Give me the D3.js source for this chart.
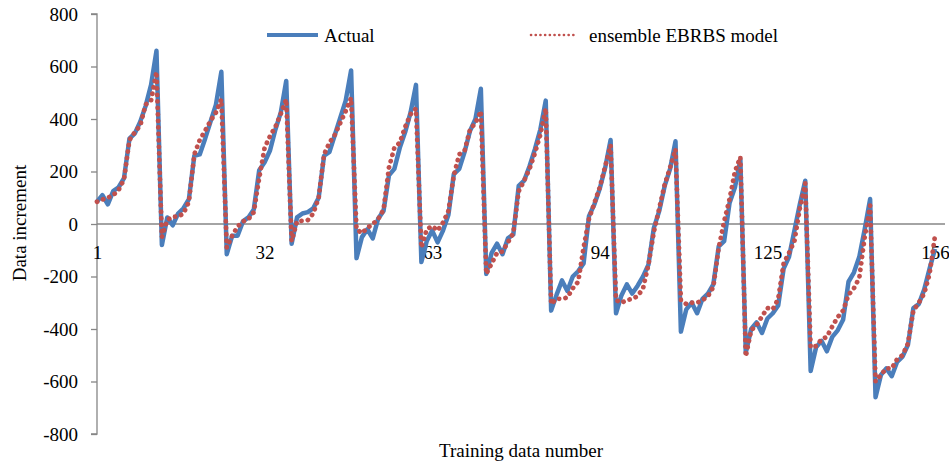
<!DOCTYPE html>
<html>
<head>
<meta charset="utf-8">
<script src="https://cdn.jsdelivr.net/npm/d3@7"></script>
<style>
  body { margin: 0; background: #fff; }
  text { font-family: "Liberation Serif", "Times New Roman", serif; fill: #000; }
</style>
</head>
<body>
<div id="chart"></div>
<script>
// Actual monthly increments (training data 1..156)
var actual = [
  85, 110, 75, 125, 140, 175, 325, 345, 390, 450, 530, 660,
  -80, 25, -5, 40, 60, 95, 260, 265, 325, 390, 455, 580,
  -115, -45, -45, 10, 25, 55, 205, 235, 280, 360, 425, 545,
  -75, 25, 40, 45, 60, 100, 260, 275, 340, 405, 470, 585,
  -130, -50, -20, -55, 20, 50, 185, 210, 290, 350, 425, 530,
  -145, -65, -25, -70, -25, 35, 190, 210, 275, 355, 400, 515,
  -190, -110, -75, -115, -55, -40, 145, 165, 220, 285, 360, 470,
  -330, -270, -215, -255, -200, -180, -150, 30, 75, 135, 215, 320,
  -340, -272, -230, -265, -235, -200, -155, -15, 50, 145, 210, 315,
  -410, -325, -300, -340, -285, -265, -230, -85, -65, 80, 140, 245,
  -490, -400, -375, -415, -360, -340, -310, -170, -125, -25, 75, 165,
  -560, -470, -445, -485, -430, -405, -365, -220, -185, -125, -20, 95,
  -660, -575, -550, -580, -525, -505, -460, -320, -305, -250, -170, -95
];

// ensemble EBRBS model output
var model = [
  85, 93, 100, 110, 130, 170, 320, 350, 375, 455, 470, 580,
  -50, 15, 28, 28, 40, 85, 265, 320, 355, 393, 425, 475,
  -90, -45, -10, 10, 18, 45, 175, 290, 335, 370, 420, 475,
  -65, 10, 12, 15, 40, 100, 265, 310, 340, 385, 430, 480,
  -20, -35, -15, 0, 18, 55, 215, 290, 310, 370, 418, 440,
  -90, -20, -8, -25, 5, 50, 185, 265, 280, 360, 385, 430,
  -190, -150, -110, -105, -70, -35, 125, 165, 210, 270, 340, 440,
  -305, -285, -285, -280, -245, -220, -90, 20, 80, 140, 220, 300,
  -290, -300, -290, -285, -275, -245, -155, -30, 60, 150, 215, 285,
  -290, -305, -300, -300, -290, -275, -240, -90, 10, 95, 200, 255,
  -505, -405, -385, -352, -320, -325, -285, -150, -110, -65, 60, 155,
  -470, -465, -440, -430, -390, -355, -330, -270, -245, -205, -50, 70,
  -600, -575, -550, -550, -515, -500, -455, -330, -300, -265, -190, -45
];

var xTicks = [1, 32, 63, 94, 125, 156];
var yTicks = [-800, -600, -400, -200, 0, 200, 400, 600, 800];
var seriesNames = ["Actual", "ensemble EBRBS model"];

var svgWidth = 949;
var svgHeight = 463;
var axisColor = "#868686";
var blue = "#4a7ebb";
var red = "#c0504d";

var svg = d3.select("#chart")
  .append("svg")
  .attr("width", svgWidth)
  .attr("height", svgHeight);

// scales
var xScale = d3.scaleLinear()
  .domain([1, 156])
  .range([97, 935]);

var yScale = d3.scaleLinear()
  .domain([-800, 800])
  .range([434, 14]);

// y axis (plain hyphen minus like the original)
var yAxis = d3.axisLeft(yScale)
  .tickValues(yTicks)
  .tickFormat(function(d) { return String(d); })
  .tickSize(6)
  .tickPadding(13);

var yAxisG = svg.append("g")
  .attr("transform", "translate(97,0)")
  .call(yAxis);
yAxisG.select(".domain").attr("stroke", axisColor).attr("stroke-width", 1.3)
  .attr("d", "M-6," + yScale(800) + "H0V" + yScale(-800) + "H-6");
yAxisG.selectAll(".tick line").attr("stroke", axisColor).attr("stroke-width", 1.3);
yAxisG.selectAll(".tick text").style("font-size", "19px").attr("fill", "#000");

// x axis on the zero line
var xAxis = d3.axisBottom(xScale)
  .tickValues(xTicks)
  .tickFormat(function(d) { return String(d); })
  .tickSize(0)
  .tickPadding(22);

var xAxisG = svg.append("g")
  .attr("transform", "translate(0," + yScale(0) + ")")
  .call(xAxis);
xAxisG.select(".domain").attr("stroke", axisColor).attr("stroke-width", 1.3)
  .attr("d", "M97,0H945");
xAxisG.selectAll(".tick text").style("font-size", "19px").attr("fill", "#000");

// lines
var line = d3.line()
  .x(function(d, i) { return xScale(i + 1); })
  .y(function(d) { return yScale(d); });

svg.append("path")
  .datum(actual)
  .attr("d", line)
  .attr("fill", "none")
  .attr("stroke", blue)
  .attr("stroke-width", 4.5)
  .attr("stroke-linejoin", "round");

svg.append("path")
  .datum(model)
  .attr("d", line)
  .attr("fill", "none")
  .attr("stroke", red)
  .attr("stroke-width", 4.8)
  .attr("stroke-linecap", "round")
  .attr("stroke-dasharray", "0.1 6.4");

// legend
var legend = svg.append("g");
legend.append("line")
  .attr("x1", 267).attr("x2", 318)
  .attr("y1", 35).attr("y2", 35)
  .attr("stroke", blue).attr("stroke-width", 4);
legend.append("text")
  .attr("x", 324).attr("y", 42)
  .style("font-size", "19px")
  .text(seriesNames[0]);

legend.append("line")
  .attr("x1", 531).attr("x2", 576)
  .attr("y1", 35).attr("y2", 35)
  .attr("stroke", red).attr("stroke-width", 2.6)
  .attr("stroke-linecap", "round")
  .attr("stroke-dasharray", "0.1 4.6");
legend.append("text")
  .attr("x", 589).attr("y", 42)
  .style("font-size", "19px")
  .text(seriesNames[1]);

// axis titles
svg.append("text")
  .attr("transform", "translate(26,223) rotate(-90)")
  .attr("text-anchor", "middle")
  .style("font-size", "19px")
  .text("Data increment");

svg.append("text")
  .attr("x", 521)
  .attr("y", 457)
  .attr("text-anchor", "middle")
  .style("font-size", "19px")
  .text("Training data number");
</script>
</body>
</html>
